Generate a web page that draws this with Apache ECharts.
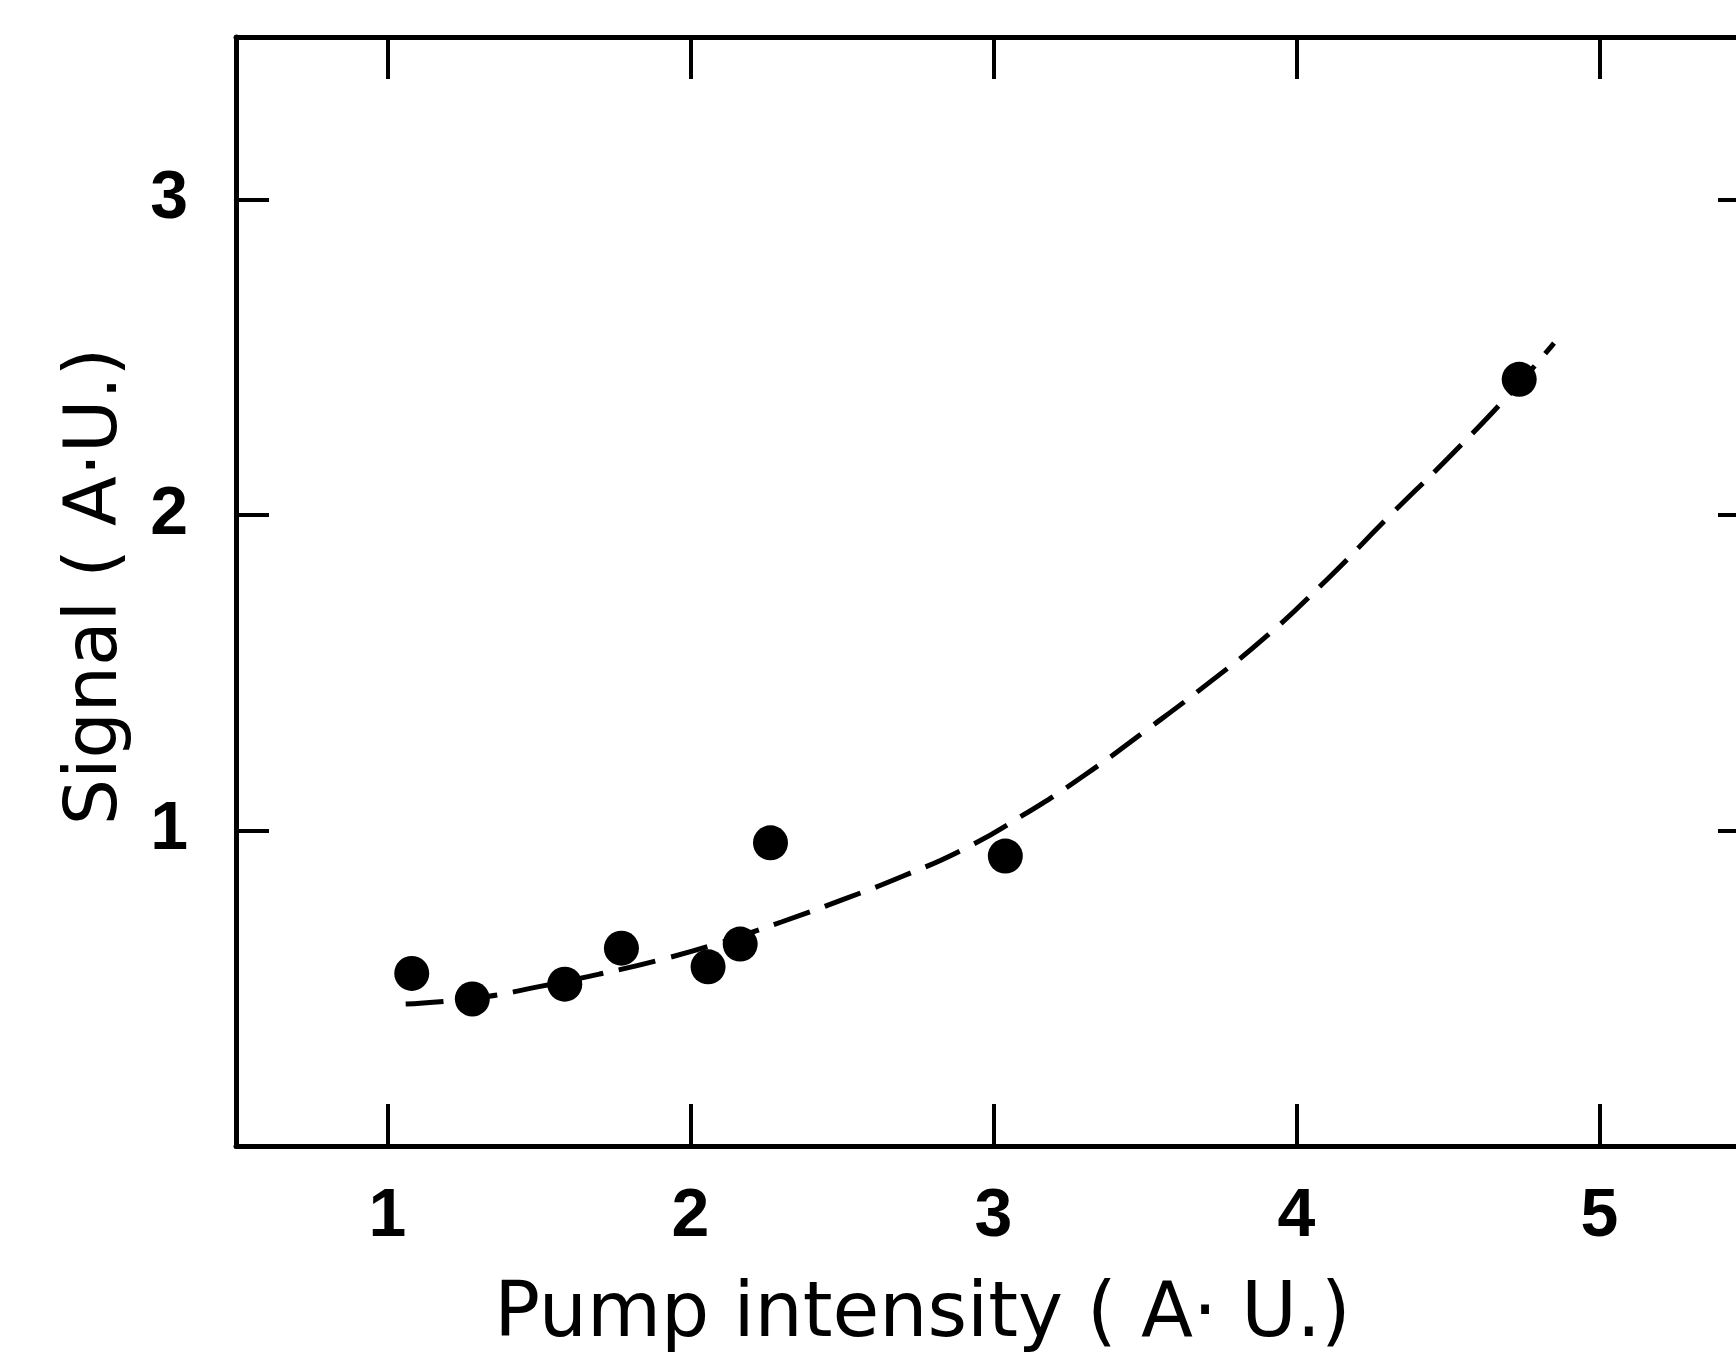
<!DOCTYPE html>
<html>
<head>
<meta charset="utf-8">
<script src="https://cdn.jsdelivr.net/npm/echarts@6/dist/echarts.min.js"></script>
<style>
  html, body { margin: 0; padding: 0; background: #fff; overflow: hidden; }
  #chart { width: 1800px; height: 1364px; }
</style>
</head>
<body>
<div id="chart"></div>
<script>
// Measured points
const pointX = [1.08, 1.28, 1.585, 1.772, 2.058, 2.164, 2.264, 3.039, 4.735];
const pointY = [0.547, 0.466, 0.513, 0.627, 0.568, 0.64, 0.961, 0.919, 2.43];

// Dashed guide curve
const curveX = [1.06, 1.3, 1.5, 1.7, 1.9, 2.1, 2.3, 2.5, 2.7, 2.9, 3.1, 3.3, 3.5, 3.7, 3.9, 4.1, 4.3, 4.5, 4.7, 4.85];
const curveY = [0.45, 0.47, 0.505, 0.545, 0.59, 0.645, 0.71, 0.78, 0.855, 0.94, 1.05, 1.175, 1.315, 1.46, 1.615, 1.795, 1.99, 2.18, 2.38, 2.545];

// Tick labels
const xTicks = [1, 2, 3, 4, 5];
const yTicks = [1, 2, 3];

const xName = 'Pump intensity ( A· U.)';
const yName = 'Signal ( A·U.)';

const TICK_FONT = '"Liberation Sans", Arial, sans-serif';
const NAME_FONT = '"DejaVu Sans", "Liberation Sans", sans-serif';

const chart = echarts.init(document.getElementById('chart'), null, { renderer: 'canvas' });

const axisLine = { show: true, onZero: false, lineStyle: { color: '#000', width: 5 } };

const option = {
  backgroundColor: '#fff',
  animation: false,
  grid: { left: 236, top: 37, right: 49, bottom: 218, containLabel: false },
  xAxis: [
    {
      type: 'value', position: 'bottom', min: 0.5, max: 5.5,
      axisLine: axisLine,
      axisTick: { show: true, inside: true, length: 42, customValues: xTicks, lineStyle: { color: '#000', width: 4 } },
      axisLabel: { show: true, customValues: xTicks, margin: 37, color: '#000', fontSize: 68, fontWeight: 'bold', fontFamily: TICK_FONT },
      splitLine: { show: false },
      name: xName, nameLocation: 'middle', nameGap: 132,
      nameTextStyle: { color: '#000', fontSize: 76, fontFamily: NAME_FONT, padding: [0, 142, 0, 0] }
    },
    {
      type: 'value', position: 'top', min: 0.5, max: 5.5,
      axisLine: axisLine,
      axisTick: { show: true, inside: true, length: 42, customValues: xTicks, lineStyle: { color: '#000', width: 4 } },
      axisLabel: { show: false },
      splitLine: { show: false }
    }
  ],
  yAxis: [
    {
      type: 'value', position: 'left', min: 0, max: 3.515,
      axisLine: axisLine,
      axisTick: { show: true, inside: true, length: 33, customValues: yTicks, lineStyle: { color: '#000', width: 4 } },
      axisLabel: { show: true, customValues: yTicks, margin: 48, color: '#000', fontSize: 68, fontWeight: 'bold', fontFamily: TICK_FONT },
      splitLine: { show: false },
      name: yName, nameLocation: 'middle', nameGap: 102, nameRotate: 90,
      nameTextStyle: { color: '#000', fontSize: 73, fontFamily: NAME_FONT, padding: [0, 0, 0, 10] }
    },
    {
      type: 'value', position: 'right', min: 0, max: 3.515,
      axisLine: axisLine,
      axisTick: { show: true, inside: true, length: 33, customValues: yTicks, lineStyle: { color: '#000', width: 4 } },
      axisLabel: { show: false },
      splitLine: { show: false }
    }
  ],
  series: [
    {
      type: 'line',
      xAxisIndex: 0, yAxisIndex: 0,
      data: curveX.map((x, i) => [x, curveY[i]]),
      smooth: 0.5,
      showSymbol: false,
      lineStyle: { color: '#000', width: 5, type: [38, 16] },
      z: 2
    },
    {
      type: 'scatter',
      xAxisIndex: 0, yAxisIndex: 0,
      data: pointX.map((x, i) => [x, pointY[i]]),
      symbol: 'circle',
      symbolSize: 35,
      itemStyle: { color: '#000', opacity: 1 },
      z: 3
    }
  ]
};

chart.setOption(option);
</script>
</body>
</html>
